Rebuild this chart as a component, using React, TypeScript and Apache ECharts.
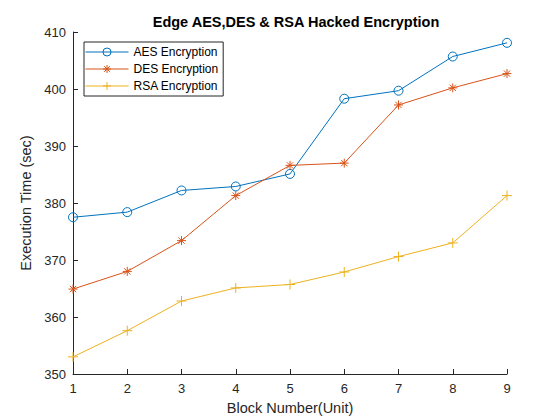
import React, { useEffect, useRef } from "react";
import * as echarts from "echarts";

const blocks = [1, 2, 3, 4, 5, 6, 7, 8, 9];
const aes = [377.5, 378.4, 382.2, 382.9, 385.1, 398.3, 399.7, 405.7, 408.1];
const des = [364.9, 368.0, 373.4, 381.3, 386.6, 387.0, 397.2, 400.2, 402.7];
const rsa = [353.0, 357.6, 362.8, 365.1, 365.7, 367.9, 370.6, 373.0, 381.3];
const seriesNames = ["AES Encryption", "DES Encryption", "RSA Encryption"];
const colors = ["#0072BD", "#D95319", "#EDB120"];

const FONT = "'Liberation Sans', Arial, Helvetica, sans-serif";
const CIRCLE = "path://M10,0A10,10,0,1,1,-10,0A10,10,0,1,1,10,0Z";
const STAR = "path://M0,-10L0,10M-10,0L10,0M-7,-7L7,7M-7,7L7,-7";
const PLUS = "path://M0,-10L0,10M-10,0L10,0";

export default function App() {
  const ref = useRef<HTMLDivElement>(null);
  useEffect(() => {
    if (!ref.current) return;
    const chart = echarts.init(ref.current, undefined, { renderer: "svg" });
    const data = [aes, des, rsa];
    const symbols = [CIRCLE, STAR, PLUS];
    const sizes = [9, 9, 10];
    chart.setOption({
      animation: false,
      backgroundColor: "#ffffff",
      title: {
        text: "Edge AES,DES & RSA Hacked Encryption",
        left: 291,
        textAlign: "center",
        top: 9,
        textStyle: { fontFamily: FONT, fontSize: 14.5, fontWeight: "bold", color: "#000" },
      },
      legend: {
        orient: "vertical",
        left: 84,
        top: 42,
        padding: [3, 5, 3, 1],
        itemGap: 3,
        itemWidth: 43,
        itemHeight: 10,
        borderColor: "#262626",
        borderWidth: 1,
        backgroundColor: "#fff",
        lineStyle: { width: 1 },
        itemStyle: { borderWidth: 1 },
        textStyle: { fontFamily: FONT, fontSize: 12, color: "#000", lineHeight: 14 },
        data: seriesNames,
      },
      grid: { left: 73, right: 53, top: 32, bottom: 46 },
      xAxis: {
        type: "value",
        min: 1,
        max: 9,
        interval: 1,
        name: "Block Number(Unit)",
        nameLocation: "middle",
        nameGap: 26,
        nameTextStyle: { fontFamily: FONT, fontSize: 14.5, color: "#262626" },
        axisLine: { show: true, onZero: false, lineStyle: { color: "#262626", width: 1 } },
        axisTick: { show: true, inside: true, length: 5, lineStyle: { color: "#262626" } },
        axisLabel: { fontFamily: FONT, fontSize: 13, color: "#262626", margin: 8 },
        splitLine: { show: false },
      },
      yAxis: {
        type: "value",
        min: 350,
        max: 410,
        interval: 10,
        name: "Execution Time (sec)",
        nameLocation: "middle",
        nameGap: 31,
        nameTextStyle: { fontFamily: FONT, fontSize: 14.5, color: "#262626" },
        axisLine: { show: true, lineStyle: { color: "#262626", width: 1 } },
        axisTick: { show: true, inside: true, length: 5, lineStyle: { color: "#262626" } },
        axisLabel: { fontFamily: FONT, fontSize: 13, color: "#262626", margin: 7 },
        splitLine: { show: false },
      },
      series: data.map((d, i) => ({
        name: seriesNames[i],
        type: "line",
        data: blocks.map((b, j) => [b, d[j]]),
        symbol: symbols[i],
        symbolSize: sizes[i],
        showAllSymbol: true,
        lineStyle: { color: colors[i], width: 1 },
        itemStyle: { color: "none", borderColor: colors[i], borderWidth: 1 },
        emphasis: { disabled: true },
      })),
    });
    return () => chart.dispose();
  }, []);
  return <div ref={ref} style={{ width: 560, height: 420, position: "absolute", left: 0, top: 0 }} />;
}
